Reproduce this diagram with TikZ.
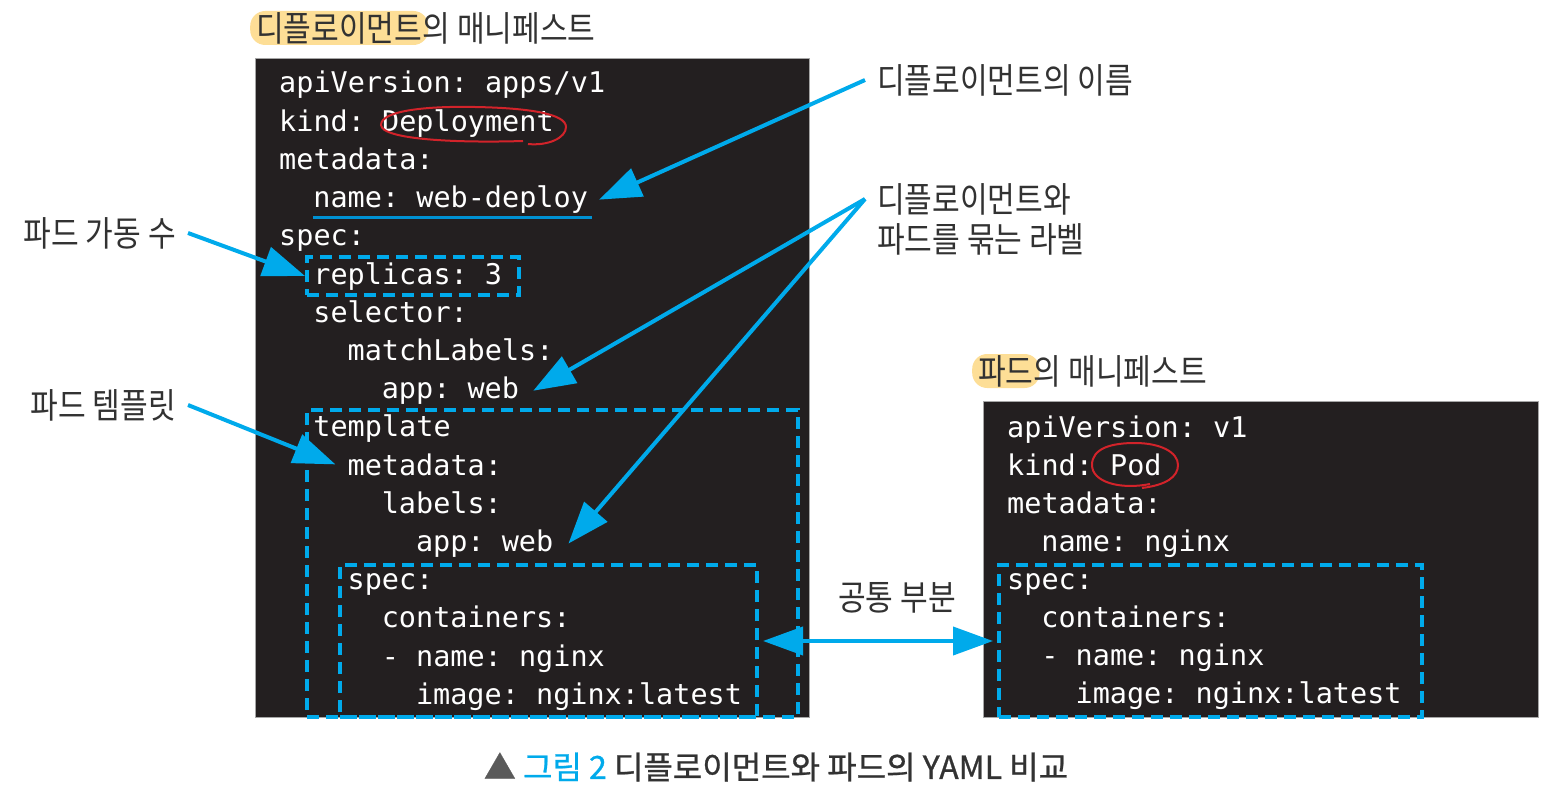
\documentclass[tikz,border=0pt]{standalone}
\usepackage{fontspec}
\setmainfont{Noto Sans CJK KR}
\newfontfamily\kr[FakeStretch=0.86]{Noto Sans CJK KR}
\newfontfamily\krcap[FakeBold=0.8]{Noto Sans CJK KR}
\newfontfamily\codefam{DejaVu Sans Mono}
\usetikzlibrary{arrows.meta}
\definecolor{arrowblue}{RGB}{0,170,235}
\definecolor{ulblue}{RGB}{0,145,210}
\definecolor{boxbg}{RGB}{35,31,32}
\definecolor{hlyellow}{RGB}{253,222,150}
\definecolor{penred}{RGB}{210,35,42}
\definecolor{labtext}{RGB}{50,50,50}
\definecolor{tri}{RGB}{90,90,90}
\tikzset{
  code/.style={font=\codefam\fontsize{28.5}{34}\selectfont\frenchspacing, text=white, anchor=base west, inner sep=0pt},
  lab/.style={font=\kr\fontsize{35}{40}\selectfont, text=labtext, inner sep=0pt},
  hl/.style={lab, fill=hlyellow, rounded corners=15pt, inner xsep=6pt, inner ysep=0pt, minimum height=34pt, anchor=west},
  panel/.style={fill=boxbg, draw=gray!70, line width=1pt, anchor=north west, inner sep=0pt},
  dbox/.style={draw=arrowblue, line width=4pt, dash pattern=on 12pt off 7pt, inner sep=0pt, anchor=north west},
  arr/.style={draw=arrowblue, line width=4pt, -{Triangle[length=42pt,width=30pt]}},
  arr2/.style={draw=arrowblue, line width=4pt, {Triangle[length=40pt,width=28pt]}-{Triangle[length=40pt,width=28pt]}},
  pen/.style={draw=penred, line width=2pt}
}
\begin{document}
\begin{tikzpicture}[x=1pt,y=-1pt]
\useasboundingbox (0,0) rectangle (1557,802);
% panels
\node[panel, minimum width=554pt, minimum height=659pt] (depPanel) at (255,58) {};
\node[panel, minimum width=555pt, minimum height=316pt] (podPanel) at (983,401) {};
% headings
\node[hl] (h1) at (250,28) {디플로이먼트};
\node[lab, anchor=west] (h1b) at ([xshift=-6pt]h1.east) {의 매니페스트};
\node[hl] (h2) at (972,371) {파드};
\node[lab, anchor=west] (h2b) at ([xshift=-6pt]h2.east) {의 매니페스트};
% dashed boxes
\node[dbox, minimum width=212pt, minimum height=38pt] (rep) at (305,255) {};
\node[dbox, minimum width=491pt, minimum height=307pt] (tpl) at (305,408) {};
\node[dbox, minimum width=417pt, minimum height=152pt] (specL) at (338,563) {};
\node[dbox, minimum width=423pt, minimum height=152pt] (specR) at (997,563) {};
% deployment code
\node[code] (L1) at (279,93) {apiVersion: apps/v1};
\node[code] (L2) at (279,131.2) {kind: Deployment};
\node[code] (L3) at (279,169.4) {metadata:};
\node[code] (L4) at (313.2,207.6) {name: web-deploy};
\node[code] (L5) at (279,245.8) {spec:};
\node[code] (L6) at (313.2,284) {replicas: 3};
\node[code] (L7) at (313.2,322.2) {selector:};
\node[code] (L8) at (347.4,360.4) {matchLabels:};
\node[code] (L9) at (381.6,398.6) {app: web};
\node[code] (L10) at (313.2,436.8) {template};
\node[code] (L11) at (347.4,475) {metadata:};
\node[code] (L12) at (381.6,513.2) {labels:};
\node[code] (L13) at (415.8,551.4) {app: web};
\node[code] (L14) at (347.4,589.6) {spec:};
\node[code] (L15) at (381.6,627.8) {containers:};
\node[code] (L16) at (381.6,666) {- name: nginx};
\node[code] (L17) at (415.8,704.2) {image: nginx:latest};
% pod code
\node[code] (R1) at (1007,437) {apiVersion: v1};
\node[code] (R2) at (1007,475) {kind: Pod};
\node[code] (R3) at (1007,513) {metadata:};
\node[code] (R4) at (1041.2,551) {name: nginx};
\node[code] (R5) at (1007,589) {spec:};
\node[code] (R6) at (1041.2,627) {containers:};
\node[code] (R7) at (1041.2,665) {- name: nginx};
\node[code] (R8) at (1075.4,703) {image: nginx:latest};
% underline
\draw[ulblue, line width=2.5pt] ([yshift=-10pt]L4.base west) -- ([yshift=-10pt,xshift=4pt]L4.base east);
% red pen marks
\draw[pen] (523,141) .. controls (460,143) and (382,140) .. (381,125) .. controls (381,110) and (430,106) .. (475,107) .. controls (530,108) and (566,114) .. (566,127) .. controls (566,138) and (548,146) .. (528,144);
\draw[pen] (1150,484) .. controls (1120,490) and (1092,482) .. (1092,465) .. controls (1092,448) and (1112,443) .. (1135,443) .. controls (1160,443) and (1178,452) .. (1178,465) .. controls (1178,477) and (1166,485) .. (1142,488);
% labels
\node[lab, anchor=west] (lab1) at (877,80) {디플로이먼트의 이름};
\node[lab, anchor=west] (lab4a) at (877,199) {디플로이먼트와};
\node[lab, anchor=west] (lab4b) at (877,239) {파드를 묶는 라벨};
\node[lab, anchor=east] (lab2) at (176,233) {파드 가동 수};
\node[lab, anchor=east] (lab3) at (176,405) {파드 템플릿};
\node[lab] (common) at (897,598) {공통 부분};
% arrows
\draw[arr] ([xshift=-12pt]lab1.west) -- ([xshift=11pt]L4.east);
\draw[arr] ([xshift=12pt]lab2.east) -- (rep.west);
\draw[arr] ([xshift=12pt]lab3.east) -- ([xshift=-12pt]L11.west);
\draw[arr] ([xshift=-12pt]lab4a.west) -- ([xshift=14pt]L9.east);
\draw[arr] ([xshift=-12pt]lab4a.west) -- ([xshift=15pt]L13.east);
\draw[arr2] ([xshift=4pt]specL.east) -- ([xshift=-4pt]specR.west);
% caption
\node[font=\krcap\fontsize{32}{36}\selectfont, text=labtext] (cap) at (776,767) {{\color{tri}▲} {\color{arrowblue}그림 2} 디플로이먼트와 파드의 YAML 비교};
\end{tikzpicture}
\end{document}
